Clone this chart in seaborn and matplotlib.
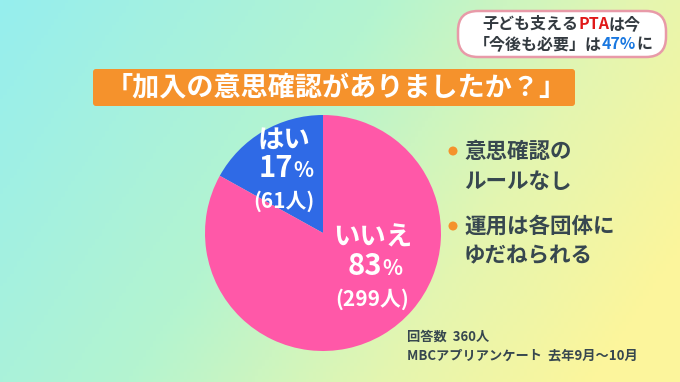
import matplotlib
matplotlib.use('Agg')
import matplotlib.pyplot as plt
from matplotlib.colors import LinearSegmentedColormap
from matplotlib.patches import FancyBboxPatch, Circle
import numpy as np
import seaborn as sns

# Survey data
labels = ['はい', 'いいえ']
counts = [61, 299]
percents = [17, 83]
slice_colors = ['#2f6ae6', '#ff58a8']

title_text = '「加入の意思確認がありましたか？」'
notes = [['意思確認の', 'ルールなし'], ['運用は各団体に', 'ゆだねられる']]
footer = ['回答数  360人', 'MBCアプリアンケート  去年9月～10月']

sns.set_style('white')
plt.rcParams['font.family'] = ['Noto Sans CJK JP', 'DejaVu Sans']
plt.rcParams['font.weight'] = 'bold'

W, H = 680, 382
fig = plt.figure(figsize=(W / 100, H / 100), dpi=100)

# Background gradient (cyan -> green -> yellow)
bg = fig.add_axes([0, 0, 1, 1])
bg.set_xlim(0, W)
bg.set_ylim(H, 0)
bg.axis('off')
xx, yy = np.meshgrid(np.linspace(0, 1, 200), np.linspace(0, 1, 120))
grad = np.clip(0.8 * xx + 0.3 * yy, 0, 1)
cmap = LinearSegmentedColormap.from_list(
    'bg', [(0, '#96eeee'), (0.45, '#b4f4d0'), (0.75, '#e4f6b0'), (1, '#fcf59c')])
bg.imshow(grad, cmap=cmap, extent=[0, W, H, 0], aspect='auto', zorder=0)

# Top-right headline box
box = FancyBboxPatch((458, 11), 208, 46, boxstyle='round,pad=0,rounding_size=20',
                     facecolor='white', edgecolor='#e89aa8', linewidth=1.8, zorder=2)
bg.add_patch(box)
dark = '#333a40'
t1 = bg.text(482, 24, '子ども支える', fontsize=11.5, color=dark, va='center', ha='left', zorder=3)
t1b = bg.annotate('PTA', xy=(1, 0), xycoords=t1, fontsize=11.5, color='#e01818',
                  va='bottom', ha='left', zorder=3)
bg.annotate('は今', xy=(1, 0), xycoords=t1b, fontsize=11.5, color=dark,
            va='bottom', ha='left', zorder=3)
t2 = bg.text(474, 44, '「今後も必要」は', fontsize=11.5, color=dark, va='center', ha='left', zorder=3)
t2b = bg.annotate('47%', xy=(1, 0), xycoords=t2, fontsize=11.5, color='#1a78e0',
                  va='bottom', ha='left', zorder=3)
bg.annotate('に', xy=(1, 0), xycoords=t2b, fontsize=11.5, color=dark,
            va='bottom', ha='left', zorder=3)

# Title banner
bg.add_patch(FancyBboxPatch((93, 69), 482, 37, boxstyle='round,pad=0,rounding_size=3',
                            facecolor='#f5922c', edgecolor='none', zorder=2))
bg.text(336, 87, title_text, fontsize=19.5, color='white', ha='center', va='center', zorder=3)

# Bullet notes
orange = '#f5922c'
note_color = '#37474f'
for (line1, line2), y0 in zip(notes, [151, 226]):
    bg.add_patch(Circle((453, y0), 4.5, facecolor=orange, edgecolor='none', zorder=3))
    bg.text(464, y0, line1, fontsize=15.5, color=note_color, va='center', ha='left', zorder=3)
    bg.text(464, y0 + 30, line2, fontsize=15.5, color=note_color, va='center', ha='left', zorder=3)

# Footer
bg.text(407, 337, footer[0], fontsize=9.5, color=note_color, va='center', ha='left')
bg.text(407, 355, footer[1], fontsize=9.5, color=note_color, va='center', ha='left')

# Pie chart
cx, cy, r = 323, 233, 118
pie_ax = fig.add_axes([(cx - r) / W, (H - cy - r) / H, 2 * r / W, 2 * r / H])
wedges, _ = pie_ax.pie(counts, colors=slice_colors, startangle=90, counterclock=True,
                       radius=1, wedgeprops=dict(linewidth=0))
pie_ax.set_xlim(-1, 1)
pie_ax.set_ylim(-1, 1)
pie_ax.set_aspect('auto')
pie_ax.axis('off')

label_pos = [(-0.33, 0.79), (0.42, -0.04)]
for lab, pct, n, (lx, ly) in zip(labels, percents, counts, label_pos):
    pie_ax.text(lx, ly, lab, fontsize=19, color='white', ha='center', va='center')
    num = pie_ax.text(lx + 0.08, ly - 0.24, f'{pct}', fontsize=21, color='white',
                      ha='right', va='center')
    pie_ax.annotate('%', xy=(1, 0.08), xycoords=num, fontsize=15, color='white',
                    ha='left', va='bottom')
    pie_ax.text(lx, ly - 0.52, f'({n}人)', fontsize=15, color='white', ha='center', va='center')

fig.savefig('out.png', dpi=100)
